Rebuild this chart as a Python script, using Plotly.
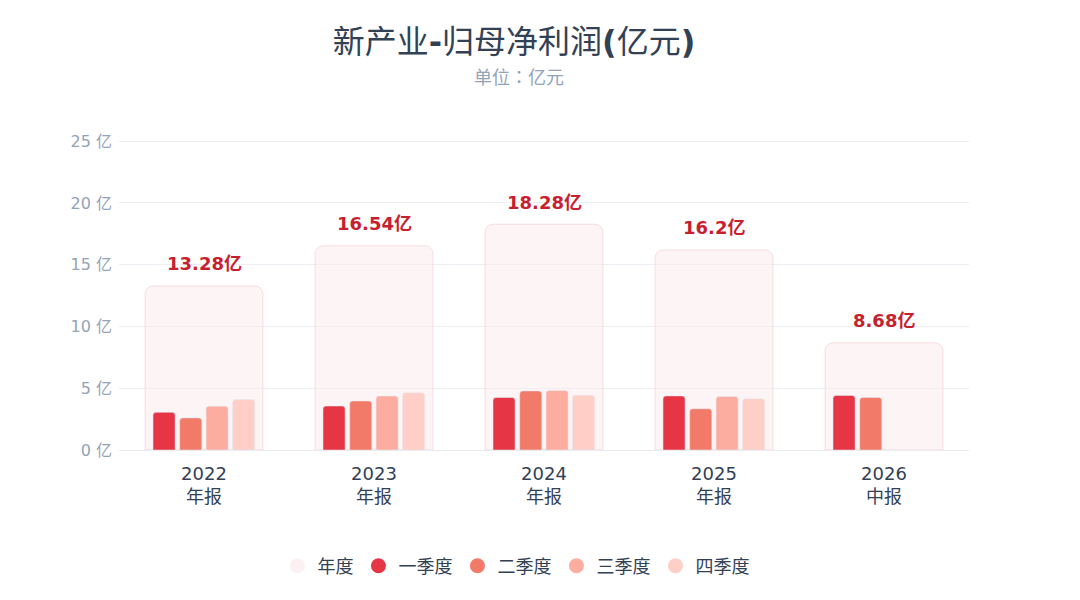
import plotly.graph_objects as go

# 新产业 归母净利润, 单位: 亿元
years = ["2022", "2023", "2024", "2025", "2026"]
report = ["年报", "年报", "年报", "年报", "中报"]
annual = [13.28, 16.54, 18.28, 16.2, 8.68]
q1 = [3.05, 3.56, 4.25, 4.38, 4.42]
q2 = [2.60, 3.97, 4.78, 3.34, 4.26]
q3 = [3.55, 4.37, 4.81, 4.33, None]
q4 = [4.08, 4.64, 4.44, 4.15, None]

quarters = [("一季度", q1, "#e63646"), ("二季度", q2, "#f27a68"),
            ("三季度", q3, "#fdaca0"), ("四季度", q4, "#fecec7")]

FONT = "DejaVu Sans, Noto Sans CJK SC, sans-serif"
CJK = "Noto Sans CJK SC, DejaVu Sans, sans-serif"

# page body has an 8px margin, so the figure is drawn 8px in from the corner
W, H = 1072, 592
L, R, T, B = 111, 111, 132, 150
ph = H - T - B

fig = go.Figure()

# 年度底框
fig.add_trace(go.Bar(
    x=years, y=annual, width=0.694, offset=-0.347,
    marker=dict(color="rgba(250,236,238,0.6)", cornerradius=8,
                line=dict(color="rgba(240,170,180,0.35)", width=1)),
    showlegend=False, hoverinfo="skip"))

offsets = [-0.30, -0.143, 0.012, 0.168]
for (name, vals, col), off in zip(quarters, offsets):
    fig.add_trace(go.Bar(
        x=years, y=vals, name=name, width=0.13, offset=off,
        marker=dict(color=col, cornerradius=3), showlegend=False))

# legend with round markers
for name, col in [("年度", "#fcf1f2")] + [(n, c) for n, _, c in quarters]:
    fig.add_trace(go.Scatter(
        x=[None], y=[None], mode="markers", name=name,
        marker=dict(symbol="circle", size=15, color=col)))

# category axis: annotations are placed by category index
for i, v in enumerate(annual):
    fig.add_annotation(x=i, y=v, text=f"<b>{v:g}亿</b>", showarrow=False,
                       yshift=22, font=dict(size=18, color="#c81f2f", family=FONT))

for i, rp in enumerate(report):
    fig.add_annotation(x=i, y=-(487 - 442) / ph, yref="paper", text=rp,
                       showarrow=False, yanchor="middle",
                       font=dict(size=18, color="#334155", family=CJK))

fig.update_layout(
    width=W, height=H,
    barmode="overlay",
    paper_bgcolor="white", plot_bgcolor="white",
    margin=dict(l=L, r=R, t=T, b=B),
    font=dict(family=FONT, color="#334155"),
    title=dict(text="新产业<b>-</b>归母净利润<b>(</b>亿元<b>)</b>", x=0.472,
               xref="container", y=1 - 34 / H, yref="container",
               xanchor="center", yanchor="middle",
               font=dict(size=32, color="#334155", family=FONT)),
    legend=dict(orientation="h", x=0.467, xanchor="center",
                y=-(558 - 442) / ph, yanchor="middle",
                font=dict(size=18, color="#334155", family=CJK), itemwidth=30,
                traceorder="normal"),
    xaxis=dict(type="category", showgrid=False, showline=False, ticks="",
               tickfont=dict(size=18, color="#334155"), ticklabelstandoff=11),
    yaxis=dict(range=[0, 25.1], dtick=5, ticksuffix=" 亿", gridcolor="#eceef3",
               zeroline=True, zerolinecolor="#e8ebf0", zerolinewidth=1,
               tickfont=dict(size=16, color="#94a3b8"), ticklabelstandoff=6),
)

fig.add_annotation(text="单位：亿元", x=0.47, xref="paper", xanchor="center",
                   y=1 + (132 - 68) / ph, yref="paper", yanchor="middle",
                   showarrow=False,
                   font=dict(size=18, color="#94a3b8",
                             family="Noto Sans CJK TC, Noto Sans CJK SC, sans-serif"))

fig.write_html("out.html")
